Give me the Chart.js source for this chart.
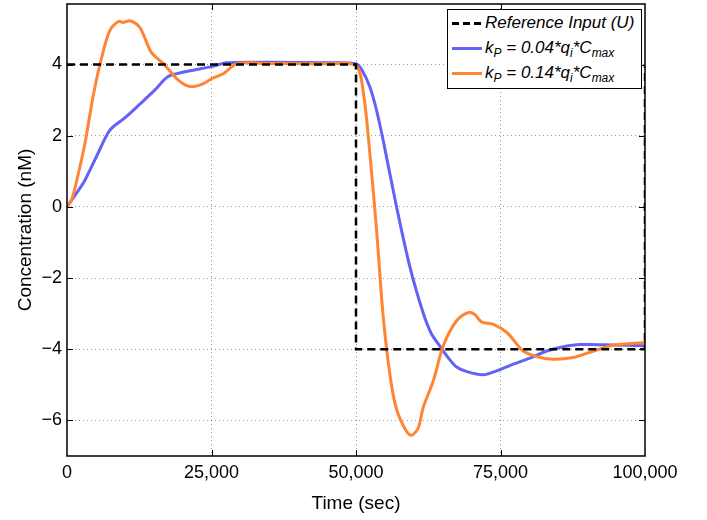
<!DOCTYPE html>
<html>
<head>
<meta charset="utf-8">
<script src="https://cdn.jsdelivr.net/npm/chart.js@4"></script>
<style>
body { margin: 0; background: #fff; }
#wrap { position: relative; width: 707px; height: 520px; }
#legend {
  position: absolute; left: 447px; top: 9px; width: 193px; height: 78px;
  border: 1.5px solid #000; background: #fff;
  font: italic 17px "Liberation Sans", Arial, sans-serif; color: #000;
}
.row { position: absolute; left: 4px; height: 20px; line-height: 20px; white-space: nowrap; }
.sample { display: inline-block; width: 30px; height: 3px; vertical-align: middle; margin-right: 3px; }
.dash { background: repeating-linear-gradient(to right, #000 0 7px, transparent 7px 11px); }
sub { font-size: 12px; vertical-align: -4px; line-height: 0; }
</style>
</head>
<body>
<div id="wrap">
  <canvas id="chart" width="707" height="520"></canvas>
  <div id="legend">
    <div class="row" style="top:3px"><span class="sample dash"></span>Reference Input (U)</div>
    <div class="row" style="top:28px"><span class="sample" style="background:#6262f5"></span>k<sub>P</sub> = 0.04*q<sub>i</sub>*C<sub>max</sub></div>
    <div class="row" style="top:53px"><span class="sample" style="background:#ff8533"></span>k<sub>P</sub> = 0.14*q<sub>i</sub>*C<sub>max</sub></div>
  </div>
</div>
<script>
// reference step input (time, value)
const refT = [0, 50000, 50000, 100000, 100000];
const refV = [4, 4, -4, -4, 4];

// kP = 0.04*qi*Cmax
const lowT = [0, 1500, 3100, 5200, 7400, 10000, 12500, 15000, 17500, 20000, 25000, 27600, 35000, 45000, 50000,
  51000, 52400, 53500, 54700, 57000, 59300, 61600, 63000, 64500, 66000, 67400, 69200, 72000, 74300, 77200,
  80100, 83000, 85900, 88800, 94500, 100000];
const lowV = [0, 0.35, 0.75, 1.45, 2.15, 2.5, 2.87, 3.25, 3.66, 3.78, 3.94, 4.05, 4.06, 4.05, 4.02,
  3.85, 3.37, 2.75, 1.87, 0.01, -1.67, -2.97, -3.55, -3.91, -4.25, -4.5, -4.63, -4.72, -4.61, -4.42,
  -4.25, -4.05, -3.93, -3.87, -3.88, -3.9];

// kP = 0.14*qi*Cmax
const highT = [0, 800, 1700, 3100, 4600, 6000, 7400, 8900, 9700, 10900, 12600, 14600, 16700, 19000, 20500,
  21900, 23600, 25000, 27000, 29400, 35000, 45000, 50000, 51300, 52400, 53600, 54700, 55900, 57000, 58500,
  59600, 60800, 61600, 63400, 65100, 67400, 69400, 70500, 71700, 73800, 76100, 77800, 78900, 81300, 84100,
  87600, 91100, 94500, 100000];
const highV = [0, 0.2, 0.75, 1.78, 3.18, 4.2, 4.95, 5.21, 5.18, 5.23, 5.04, 4.34, 4.02, 3.6, 3.42,
  3.38, 3.46, 3.6, 3.74, 4.02, 4.03, 4.02, 3.96, 3.18, 1.5, -0.74, -3.07, -4.75, -5.68, -6.24,
  -6.42, -6.2, -5.65, -4.88, -3.9, -3.2, -2.97, -3.02, -3.23, -3.3, -3.53, -3.85, -4.05, -4.21, -4.28,
  -4.23, -4.05, -3.89, -3.81];

const xTicks = [0, 25000, 50000, 75000, 100000];
const yTicks = [-6, -4, -2, 0, 2, 4];

function pts(t, v) {
  return t.map((x, i) => ({ x: x, y: v[i] }));
}

const tickFont = { family: '"Liberation Sans", Arial, sans-serif', size: 18 };
const titleFont = { family: '"Liberation Sans", Arial, sans-serif', size: 19 };

// frame and inward tick marks like the matlab box
const framePlugin = {
  id: 'frame',
  afterDatasetsDraw(chart) {
    const ctx = chart.ctx;
    const a = chart.chartArea;
    const xs = chart.scales.x, ys = chart.scales.y;
    ctx.save();
    ctx.strokeStyle = '#000';
    ctx.lineWidth = 1;
    ctx.beginPath();
    xTicks.slice(1, -1).forEach(v => {
      let px = Math.round(xs.getPixelForValue(v)) + 0.5;
      ctx.moveTo(px, a.bottom); ctx.lineTo(px, a.bottom - 6);
      ctx.moveTo(px, a.top); ctx.lineTo(px, a.top + 6);
    });
    yTicks.forEach(v => {
      let py = Math.round(ys.getPixelForValue(v)) + 0.5;
      ctx.moveTo(a.left, py); ctx.lineTo(a.left + 6, py);
      ctx.moveTo(a.right, py); ctx.lineTo(a.right - 6, py);
    });
    ctx.stroke();
    ctx.lineWidth = 1.5;
    ctx.strokeRect(a.left, a.top, a.right - a.left, a.bottom - a.top);
    ctx.restore();
  }
};

new Chart(document.getElementById('chart'), {
  type: 'line',
  data: {
    datasets: [
      { data: pts(refT, refV), borderColor: '#000', borderWidth: 2.5, borderDash: [8, 5], tension: 0, order: 0 },
      { data: pts(lowT, lowV), borderColor: '#6262f5', borderWidth: 3, tension: 0.3, order: 2 },
      { data: pts(highT, highV), borderColor: '#ff8533', borderWidth: 3, tension: 0.3, order: 1 }
    ]
  },
  options: {
    responsive: false,
    animation: false,
    layout: { padding: { left: 0, right: 62, top: 4, bottom: 0 } },
    elements: { point: { radius: 0 } },
    plugins: { legend: { display: false }, tooltip: { enabled: false } },
    scales: {
      x: {
        type: 'linear', min: 0, max: 100000,
        afterBuildTicks: s => { s.ticks = xTicks.map(v => ({ value: v })); },
        afterFit: s => { s.height = 64; s.paddingLeft = 0; s.paddingRight = 0; },
        grid: {
          drawTicks: false,
          color: c => (c.tick && (c.tick.value === 0 || c.tick.value === 100000)) ? 'rgba(0,0,0,0)' : 'rgba(0,0,0,0.4)'
        },
        border: { display: false, dash: [1, 3] },
        ticks: { color: '#000', font: tickFont, padding: 6, maxRotation: 0,
          callback: v => v.toLocaleString('en-US') },
        title: { display: true, text: 'Time (sec)', color: '#000', font: titleFont, padding: { top: 0, bottom: 5 } }
      },
      y: {
        min: -7, max: 5.7,
        afterBuildTicks: s => { s.ticks = yTicks.map(v => ({ value: v })); },
        afterFit: s => { s.width = 67; s.paddingTop = 0; s.paddingBottom = 0; },
        grid: { drawTicks: false, color: 'rgba(0,0,0,0.4)' },
        border: { display: false, dash: [1, 3] },
        ticks: { color: '#000', font: tickFont, padding: 5,
          callback: v => v < 0 ? '\u2212' + Math.abs(v) : String(v) },
        title: { display: true, text: 'Concentration (nM)', color: '#000', font: titleFont, padding: { top: 14 } }
      }
    }
  },
  plugins: [framePlugin]
});
</script>
</body>
</html>
